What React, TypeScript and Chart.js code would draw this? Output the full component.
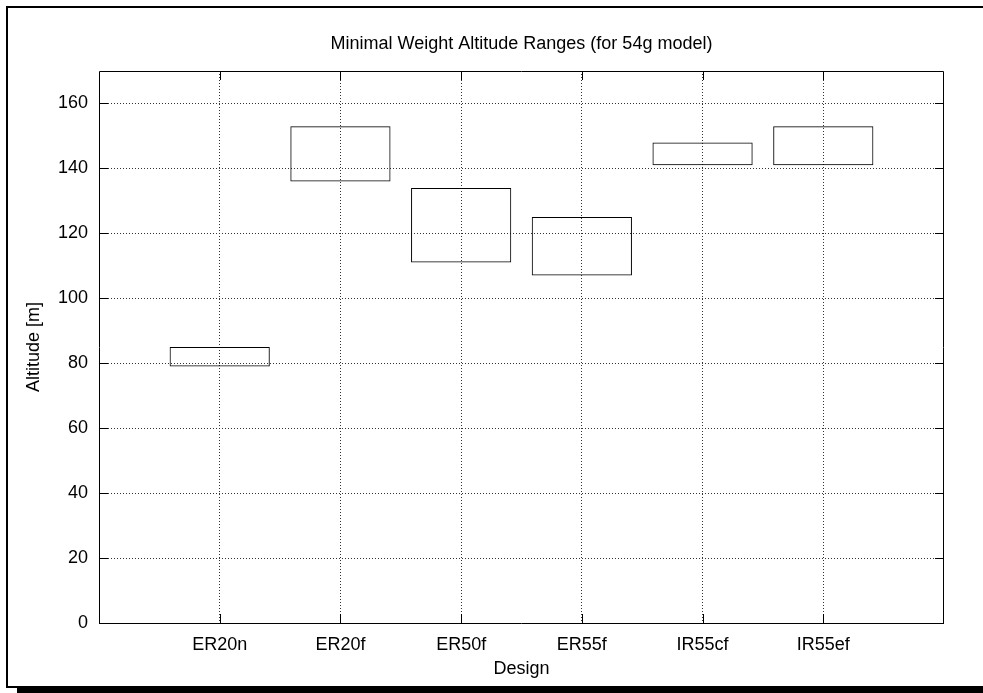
import React, { useEffect, useRef } from "react";
import { Chart, registerables } from "chart.js";

Chart.register(...registerables);

const designs = ["ER20n", "ER20f", "ER50f", "ER55f", "IR55cf", "IR55ef"];
const lowAltitude = [79, 136, 111, 107, 141, 141];
const highAltitude = [85, 153, 134, 125, 148, 153];
const yMin = 0;
const yMax = 170;
const yStep = 20;
const yLastTick = 160;

const FONT = "'Liberation Sans', Arial, Helvetica, sans-serif";

const frameTicks = {
  id: "frameTicks",
  afterDatasetsDraw(chart: any) {
    const { ctx, chartArea } = chart;
    const { left, right, top, bottom } = chartArea;
    const x = chart.scales.x;
    const y = chart.scales.y;
    const len = 9;
    ctx.save();
    ctx.strokeStyle = "#000";
    ctx.lineWidth = 1;
    ctx.setLineDash([]);
    ctx.beginPath();
    ctx.rect(Math.round(left) + 0.5, Math.round(top) + 0.5, Math.round(right - left) - 1, Math.round(bottom - top));
    y.ticks.forEach((t: any) => {
      const py = Math.round(y.getPixelForValue(t.value)) + 0.5;
      ctx.moveTo(left, py);
      ctx.lineTo(left + len, py);
      ctx.moveTo(right, py);
      ctx.lineTo(right - len, py);
    });
    for (let i = 1; i <= designs.length; i++) {
      const px = Math.round(x.getPixelForValue(i)) + 0.5;
      ctx.moveTo(px, bottom);
      ctx.lineTo(px, bottom - len);
      ctx.moveTo(px, top);
      ctx.lineTo(px, top + len);
    }
    ctx.stroke();
    ctx.restore();
  },
};

export default function App() {
  const ref = useRef<HTMLCanvasElement | null>(null);
  useEffect(() => {
    if (!ref.current) return;
    const labels = ["", ...designs, ""];
    const data: any[] = [null, ...designs.map((_, i) => [lowAltitude[i], highAltitude[i]]), null];
    const edge = (i: number) => i === 0 || i === designs.length + 1;
    const chart = new Chart(ref.current, {
      type: "bar",
      data: {
        labels,
        datasets: [
          {
            data,
            backgroundColor: "rgba(0,0,0,0)",
            borderColor: "#000",
            borderWidth: 1,
            borderSkipped: false,
            categoryPercentage: 1,
            barPercentage: 0.83,
          },
        ],
      },
      plugins: [frameTicks],
      options: {
        animation: false,
        responsive: false,
        maintainAspectRatio: false,
        layout: { padding: { left: 0, top: 0, bottom: 0, right: 39 } },
        plugins: {
          legend: { display: false },
          tooltip: { enabled: false },
          title: {
            display: true,
            fullSize: false,
            text: "Minimal Weight Altitude Ranges (for 54g model)",
            color: "#000",
            font: { family: FONT, size: 18, weight: "normal" },
            padding: { top: 33, bottom: 16.4 },
          },
        },
        scales: {
          x: {
            type: "category",
            offset: false,
            grid: {
              display: true,
              offset: false,
              color: (c: any) => (edge(c.index) ? "rgba(0,0,0,0)" : "#333"),
              lineWidth: 1,
              drawTicks: false,
            },
            border: { display: false, dash: [1, 2] },
            ticks: {
              color: "#000",
              font: { family: FONT, size: 18 },
              padding: 11,
              autoSkip: false,
              maxRotation: 0,
            },
            title: {
              display: true,
              text: "Design",
              color: "#000",
              font: { family: FONT, size: 18 },
              padding: { top: 0, bottom: 13 },
            },
            afterFit: (s: any) => {
              s.height = 70;
            },
          },
          y: {
            type: "linear",
            min: yMin,
            max: yMax,
            afterBuildTicks: (s: any) => {
              s.ticks = s.ticks.filter((t: any) => t.value <= yLastTick);
            },
            grid: {
              display: true,
              color: (c: any) => (c.tick && c.tick.value === 0 ? "rgba(0,0,0,0)" : "#333"),
              lineWidth: 1,
              drawTicks: false,
            },
            border: { display: false, dash: [1, 2] },
            ticks: {
              stepSize: yStep,
              color: "#000",
              font: { family: FONT, size: 18 },
              padding: 11,
            },
            title: {
              display: true,
              text: "Altitude [m]",
              color: "#000",
              font: { family: FONT, size: 18 },
              padding: { top: 23, bottom: 0 },
            },
            afterFit: (s: any) => {
              s.width = 99;
            },
          },
        },
      },
    });
    return () => chart.destroy();
  }, []);

  return (
    <div style={{ position: "fixed", left: 0, top: 0, width: 983, height: 693, overflow: "hidden", background: "#fff" }}>
      <div
        style={{
          position: "absolute",
          left: 6,
          top: 6,
          width: 1100,
          height: 678,
          borderLeft: "2px solid #000",
          borderTop: "2px solid #000",
          borderBottom: "2px solid #000",
        }}
      />
      <div style={{ position: "absolute", left: 17, top: 686, width: 1100, height: 10, background: "#000" }} />
      <canvas ref={ref} width={983} height={693} style={{ position: "absolute", left: 0, top: 0, width: 983, height: 693 }} />
    </div>
  );
}
